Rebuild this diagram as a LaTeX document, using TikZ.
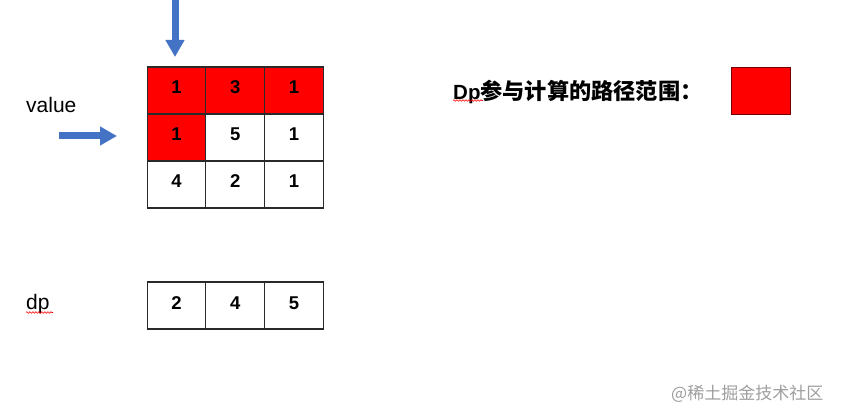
\documentclass[tikz,border=0pt]{standalone}
\usepackage{fontspec}
\setmainfont{Liberation Sans}
\newfontfamily\cjk{Noto Sans CJK SC}
\usetikzlibrary{arrows.meta,decorations.pathmorphing}
\definecolor{arrowblue}{HTML}{4472C4}
\definecolor{gridline}{HTML}{2A2A2A}
\begin{document}
\begin{tikzpicture}[x=1pt,y=-1pt,
  cell/.style={draw=gridline, line width=1.1pt, minimum width=58.7pt, minimum height=47pt,
    inner sep=0pt, font=\fontsize{18.5}{22}\selectfont\bfseries, text height=13pt, text depth=6pt},
  hot/.style={cell, fill=red},
  bluearrow/.style={draw=arrowblue, line width=7pt, -{Triangle[length=17pt,width=18pt]}},
  squiggle/.style={draw=red, line width=0.6pt, decorate,
    decoration={snake, amplitude=0.8pt, segment length=3pt}},
  lbl/.style={anchor=west, inner sep=0pt, font=\fontsize{21}{25}\selectfont}]
\useasboundingbox[fill=white] (0,0) rectangle (842,419);

% value grid
\node[hot]  (v11) at (176.5,90.5) {1};
\node[hot]  (v12) at (235.2,90.5) {3};
\node[hot]  (v13) at (293.9,90.5) {1};
\node[hot]  (v21) at (176.5,137.5) {1};
\node[cell] (v22) at (235.2,137.5) {5};
\node[cell] (v23) at (293.9,137.5) {1};
\node[cell] (v31) at (176.5,184.5) {4};
\node[cell] (v32) at (235.2,184.5) {2};
\node[cell] (v33) at (293.9,184.5) {1};

% dp row
\node[cell] (d1) at (176.5,305.5) {2};
\node[cell] (d2) at (235.2,305.5) {4};
\node[cell] (d3) at (293.9,305.5) {5};

% labels
\node[lbl] (value) at (26,105) {value};
\node[lbl, anchor=base west] (dp) at (26,309) {dp};
\draw[squiggle] (26,312.5) -- (53,312.5);

% arrows
\coordinate (atop) at (175,0);
\coordinate (atip) at (175,57);
\draw[bluearrow] (atop) -- (atip);
\coordinate (lstart) at (59,136);
\coordinate (ltip) at (117,136);
\draw[bluearrow] (lstart) -- (ltip);

% legend
\node[anchor=west, inner sep=0pt] (legend) at (453,92)
  {\fontsize{20.5}{24}\selectfont\bfseries Dp{\cjk\fontsize{22.2}{26}\selectfont\bfseries 参与计算的路径范围：}};
\draw[squiggle] (453,100.5) -- (483,100.5);
\node[draw=red!45!black, line width=0.8pt, fill=red, minimum width=59pt, minimum height=47pt,
  inner sep=0pt] (swatch) at (760.5,90.5) {};

% watermark
\node[anchor=west, inner sep=0pt, text=black!38, font=\cjk\fontsize{17}{20}\selectfont]
  (wm) at (671,394) {@稀土掘金技术社区};
\end{tikzpicture}
\end{document}
